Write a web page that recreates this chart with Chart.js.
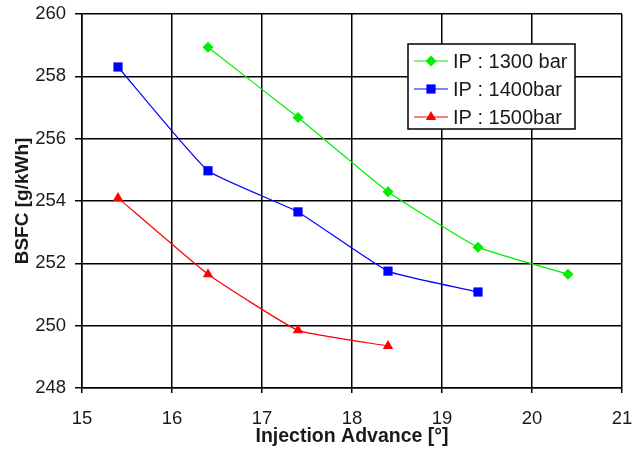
<!DOCTYPE html>
<html>
<head>
<meta charset="utf-8">
<script src="https://cdn.jsdelivr.net/npm/chart.js@4.4.0/dist/chart.umd.min.js"></script>
<style>
  html, body { margin: 0; padding: 0; background: #fff; }
  #wrap { width: 635px; height: 450px; position: relative; }
</style>
</head>
<body>
<div id="wrap"><canvas id="myChart"></canvas></div>
<script>
// BSFC vs injection advance, three injection pressures
const advance1300 = [16.4, 17.4, 18.4, 19.4, 20.4];
const bsfc1300 = [258.93, 256.68, 254.3, 252.52, 251.65];

const advance1400 = [15.4, 16.4, 17.4, 18.4, 19.4];
const bsfc1400 = [258.3, 254.97, 253.65, 251.75, 251.08];

const advance1500 = [15.4, 16.4, 17.4, 18.4];
const bsfc1500 = [254.1, 251.65, 249.85, 249.35];

const seriesLabels = ['IP : 1300 bar', 'IP : 1400bar', 'IP : 1500bar'];
const seriesColors = ['#00ee00', '#0000ff', '#ff0000'];
const seriesMarkers = ['rectRot', 'rect', 'triangle'];
const markerSizes = [5.5, 6.5, 6];

const FONT = '"Liberation Sans", Arial, sans-serif';

const toPoints = (xs, ys) => xs.map((x, i) => ({ x: x, y: ys[i] }));

const makeSet = (i, xs, ys) => ({
  label: seriesLabels[i],
  data: toPoints(xs, ys),
  borderColor: seriesColors[i],
  backgroundColor: seriesColors[i],
  borderWidth: 1.2,
  pointStyle: seriesMarkers[i],
  pointRadius: markerSizes[i],
  pointBorderWidth: 0,
  tension: 0.12,
  showLine: true
});

// legend box drawn inside the plot area, like the original
const boxLegend = {
  id: 'boxLegend',
  afterDraw(chart) {
    const ctx = chart.ctx;
    const x0 = 408, y0 = 44, w = 167, h = 85;
    ctx.save();
    ctx.fillStyle = '#fff';
    ctx.fillRect(x0, y0, w, h);
    ctx.strokeStyle = '#000';
    ctx.lineWidth = 1.5;
    ctx.strokeRect(x0, y0, w, h);
    ctx.font = '20px ' + FONT;
    ctx.textBaseline = 'middle';
    chart.data.datasets.forEach((ds, i) => {
      const yy = y0 + 17 + i * 28;
      ctx.strokeStyle = ds.borderColor;
      ctx.lineWidth = 1.2;
      ctx.beginPath();
      ctx.moveTo(x0 + 6, yy);
      ctx.lineTo(x0 + 40, yy);
      ctx.stroke();
      ctx.fillStyle = ds.backgroundColor;
      Chart.helpers.drawPoint(ctx, {
        pointStyle: ds.pointStyle,
        radius: ds.pointRadius,
        borderWidth: 0,
        rotation: 0
      }, x0 + 23, yy);
      ctx.fillStyle = '#1a1a1a';
      ctx.fillText(ds.label, x0 + 45, yy + 1);
    });
    ctx.restore();
  }
};

var context = document.getElementById('myChart').getContext('2d');

var myChart = new Chart(context, {
  type: 'scatter',
  data: {
    datasets: [
      makeSet(0, advance1300, bsfc1300),
      makeSet(1, advance1400, bsfc1400),
      makeSet(2, advance1500, bsfc1500)
    ]
  },
  options: {
    responsive: true,
    maintainAspectRatio: false,
    animation: false,
    layout: { padding: { top: 14, right: 13, left: 11, bottom: 0 } },
    plugins: {
      legend: { display: false },
      tooltip: { enabled: false }
    },
    scales: {
      x: {
        type: 'linear',
        min: 15,
        max: 21,
        grid: { color: '#000', lineWidth: 1.5, tickLength: 5 },
        border: { color: '#000', width: 1.5 },
        ticks: {
          stepSize: 1,
          color: '#1a1a1a',
          padding: 15,
          font: { family: FONT, size: 18.5 }
        },
        title: {
          display: true,
          text: 'Injection Advance [°]',
          color: '#1a1a1a',
          padding: { top: 0, bottom: 2 },
          font: { family: FONT, size: 19.5, weight: 'bold' }
        },
        afterFit: (scale) => {
          scale.height = 62;
          scale.paddingLeft = 0;
          scale.paddingRight = 0;
        }
      },
      y: {
        type: 'linear',
        min: 248,
        max: 260,
        grid: { color: '#000', lineWidth: 1.5, tickLength: 7 },
        border: { color: '#000', width: 1.5 },
        ticks: {
          stepSize: 2,
          color: '#1a1a1a',
          padding: 9,
          font: { family: FONT, size: 18.5 }
        },
        title: {
          display: true,
          text: 'BSFC [g/kWh]',
          color: '#1a1a1a',
          padding: { top: 0, bottom: 0 },
          font: { family: FONT, size: 19, weight: 'bold' }
        },
        afterFit: (scale) => {
          scale.width = 71;
          scale.paddingTop = 0;
          scale.paddingBottom = 0;
        }
      }
    }
  },
  plugins: [boxLegend]
});
</script>
</body>
</html>
